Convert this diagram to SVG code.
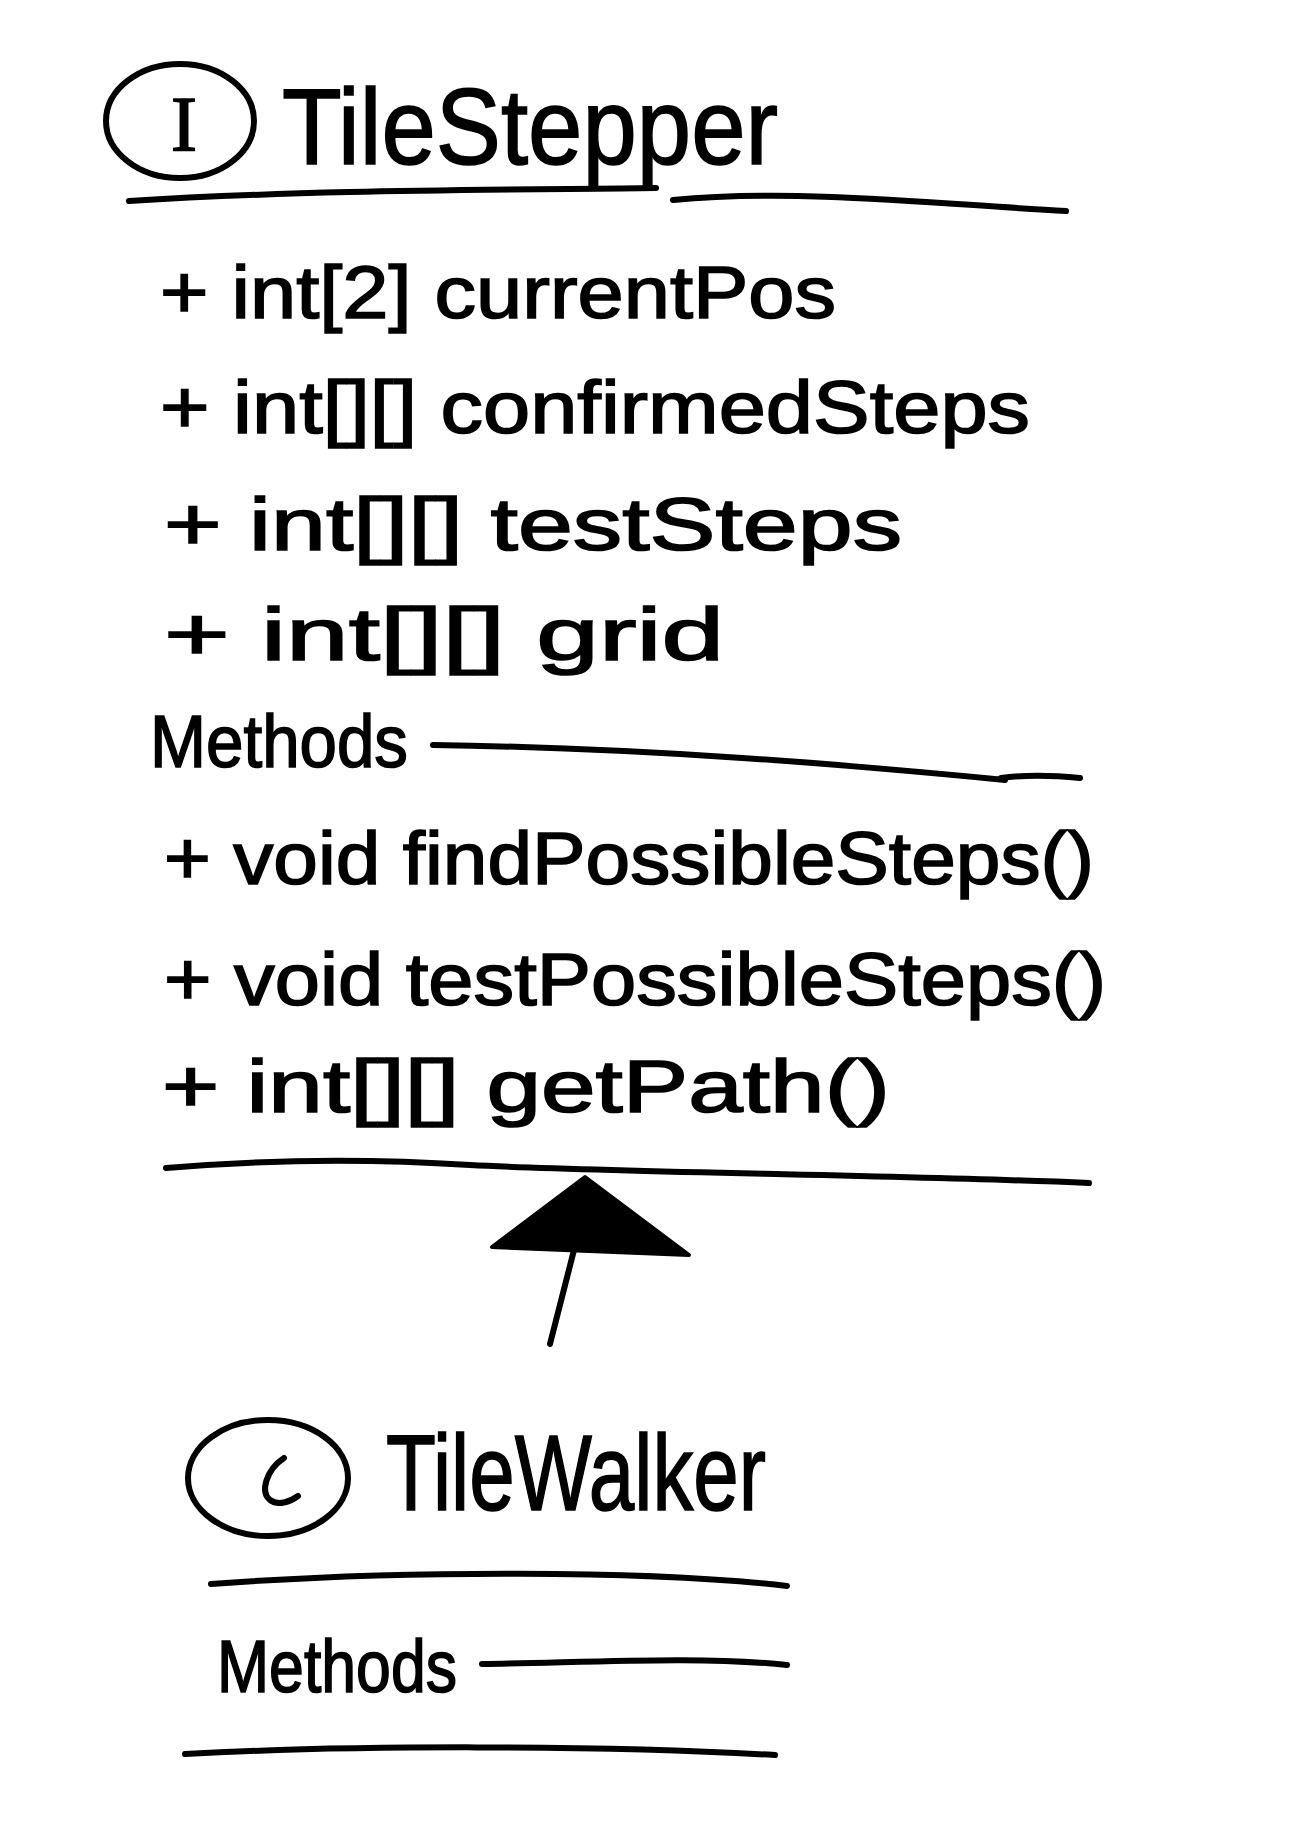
<svg xmlns="http://www.w3.org/2000/svg" width="1308" height="1836" viewBox="0 0 1308 1836">
<defs>
<style>
.t{font-family:"Liberation Sans","DejaVu Sans",sans-serif;fill:#000;stroke:#000;stroke-width:1.6;}
.title{font-size:108px;}
.row{font-size:74px;}
.ln{fill:none;stroke:#000;stroke-width:6;stroke-linecap:round;stroke-linejoin:round;}
.circ{fill:none;stroke:#000;stroke-width:6;}
</style>
</defs>
<rect width="1308" height="1836" fill="#fff"/>
<g id="TileStepper">
<ellipse class="circ" cx="180" cy="121" rx="74" ry="57"/>
<text class="t" x="184" y="150" font-size="78" text-anchor="middle" style="font-family:'Liberation Serif',serif">I</text>
<text class="t title" x="282" y="164" textLength="496" lengthAdjust="spacingAndGlyphs">TileStepper</text>
<path class="ln" d="M129,201 C300,190 500,190 656,188"/>
<path class="ln" d="M673,200 C800,188 950,205 1066,211"/>
<text class="t row" x="160" y="318" textLength="676" lengthAdjust="spacingAndGlyphs">+ int[2] currentPos</text>
<text class="t row" x="160" y="433" textLength="870" lengthAdjust="spacingAndGlyphs">+ int[][] confirmedSteps</text>
<text class="t row" x="164" y="550" textLength="738" lengthAdjust="spacingAndGlyphs">+ int[][] testSteps</text>
<text class="t row" x="164" y="660" textLength="560" lengthAdjust="spacingAndGlyphs">+ int[][] grid</text>
<text class="t row" x="150" y="767" textLength="258" lengthAdjust="spacingAndGlyphs">Methods</text>
<path class="ln" d="M433,745 C650,748 850,765 1005,780 M1001,778 C1030,774 1060,776 1080,778"/>
<text class="t row" x="164" y="884" textLength="930" lengthAdjust="spacingAndGlyphs">+ void findPossibleSteps()</text>
<text class="t row" x="164" y="1005" textLength="942" lengthAdjust="spacingAndGlyphs">+ void testPossibleSteps()</text>
<text class="t row" x="162" y="1112" textLength="728" lengthAdjust="spacingAndGlyphs">+ int[][] getPath()</text>
<path class="ln" d="M166,1168 C260,1160 360,1158 470,1165 C600,1172 900,1175 1089,1183"/>
</g>
<g id="connectors">
<path d="M585,1177 L492,1247 L689,1255 Z" fill="#000" stroke="#000" stroke-width="4" stroke-linejoin="round"/>
<path class="ln" d="M574,1250 L550,1344"/>
</g>
<g id="TileWalker">
<ellipse class="circ" cx="268" cy="1478" rx="80" ry="58"/>
<path class="ln" d="M284,1458 C266,1470 260,1492 270,1500 C278,1506 290,1502 298,1496"/>
<text class="t title" x="386" y="1510" textLength="380" lengthAdjust="spacingAndGlyphs">TileWalker</text>
<path class="ln" d="M211,1584 C400,1570 650,1570 787,1586"/>
<text class="t row" x="217" y="1692" textLength="240" lengthAdjust="spacingAndGlyphs">Methods</text>
<path class="ln" d="M482,1664 C600,1662 700,1656 787,1665"/>
<path class="ln" d="M185,1754 C350,1745 600,1745 775,1755"/>
</g>
</svg>
